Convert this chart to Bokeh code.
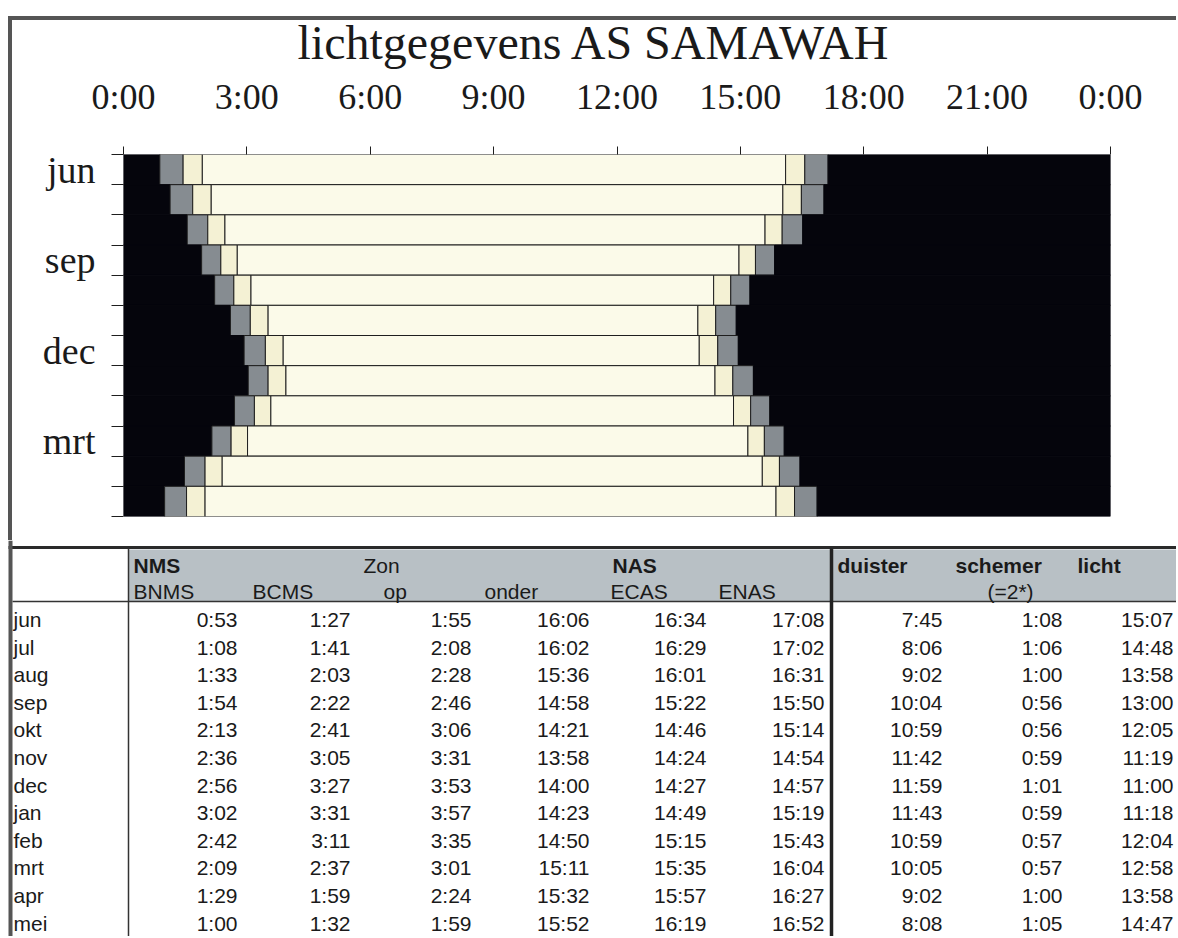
from bokeh.plotting import figure
from bokeh.models import Range1d, FixedTicker, ColumnDataSource, InlineStyleSheet
from bokeh.embed import file_html
from bokeh.resources import INLINE
from bokeh.core.properties import value

# ---------------- data ----------------
title_text = "lichtgegevens AS SAMAWAH"
months = ["jun", "jul", "aug", "sep", "okt", "nov", "dec", "jan", "feb", "mrt", "apr", "mei"]
bnms   = ["0:53", "1:08", "1:33", "1:54", "2:13", "2:36", "2:56", "3:02", "2:42", "2:09", "1:29", "1:00"]
bcms   = ["1:27", "1:41", "2:03", "2:22", "2:41", "3:05", "3:27", "3:31", "3:11", "2:37", "1:59", "1:32"]
zon_op = ["1:55", "2:08", "2:28", "2:46", "3:06", "3:31", "3:53", "3:57", "3:35", "3:01", "2:24", "1:59"]
zon_onder = ["16:06", "16:02", "15:36", "14:58", "14:21", "13:58", "14:00", "14:23", "14:50", "15:11", "15:32", "15:52"]
ecas   = ["16:34", "16:29", "16:01", "15:22", "14:46", "14:24", "14:27", "14:49", "15:15", "15:35", "15:57", "16:19"]
enas   = ["17:08", "17:02", "16:31", "15:50", "15:14", "14:54", "14:57", "15:19", "15:43", "16:04", "16:27", "16:52"]
duister = ["7:45", "8:06", "9:02", "10:04", "10:59", "11:42", "11:59", "11:43", "10:59", "10:05", "9:02", "8:08"]
schemer = ["1:08", "1:06", "1:00", "0:56", "0:56", "0:59", "1:01", "0:59", "0:57", "0:57", "1:00", "1:05"]
licht   = ["15:07", "14:48", "13:58", "13:00", "12:05", "11:19", "11:00", "11:18", "12:04", "12:58", "13:58", "14:47"]

hour_ticks = [0, 3, 6, 9, 12, 15, 18, 21, 24]
hour_labels = ["0:00", "3:00", "6:00", "9:00", "12:00", "15:00", "18:00", "21:00", "0:00"]
month_label_rows = [0, 3, 6, 9]

header_top = [("NMS", "bold"), ("Zon", "normal"), ("NAS", "bold"),
              ("duister", "bold"), ("schemer", "bold"), ("licht", "bold")]
header_bottom = ["BNMS", "BCMS", "op", "onder", "ECAS", "ENAS", "(=2*)"]

# ---------------- styles ----------------
C_NIGHT = "#05050c"
C_NAUT = "#868c91"
C_CIV = "#f4f1d4"
C_DAY = "#fbfae9"
C_LINE = "#1e1e1e"
C_FRAME = "#555555"
C_HEAD = "#b8c0c5"
SERIF = "Liberation Serif"
SANS = "Liberation Sans"

W = 1176
H1 = 540
H2 = 396


def hrs(s):
    h, m = s.split(":")
    return int(h) + int(m) / 60.0


# ---------------- chart ----------------
frame_css = InlineStyleSheet(css="""
:host::before { content: ""; position: absolute; left: 8px; top: 16px; width: 4px;
                height: 524px; background: #555555; z-index: 100; pointer-events: none; }
:host::after  { content: ""; position: absolute; left: 8px; top: 16px; width: 1168px;
                height: 4px; background: #555555; z-index: 100; pointer-events: none; }
""")

p1 = figure(width=W, height=H1, x_range=Range1d(0, 24), y_range=Range1d(12, 0),
            x_axis_location="above", output_backend="svg", toolbar_location=None,
            min_border_left=123, min_border_right=W - 1110, min_border_top=154,
            min_border_bottom=H1 - 516, title=title_text, stylesheets=[frame_css])
p1.outline_line_color = None
p1.grid.visible = False
p1.background_fill_color = "white"
p1.border_fill_color = "white"

p1.title.text_font = SERIF
p1.title.text_font_size = "48px"
p1.title.text_font_style = "normal"
p1.title.text_color = "#1a1a1a"
p1.title.align = "left"
p1.title.offset = 174

xa = p1.xaxis[0]
xa.ticker = FixedTicker(ticks=hour_ticks)
xa.major_label_overrides = {t: l for t, l in zip(hour_ticks, hour_labels)}
xa.axis_line_color = None
xa.major_tick_in = 0
xa.major_tick_out = 8
xa.minor_tick_out = 0
xa.minor_tick_in = 0
xa.major_tick_line_color = C_LINE
xa.major_label_text_font = SERIF
xa.major_label_text_font_size = "36px"
xa.major_label_text_color = "#1a1a1a"
xa.major_label_standoff = 30

ya = p1.yaxis[0]
centers = [r + 0.5 for r in month_label_rows]
ya.ticker = FixedTicker(ticks=centers, minor_ticks=list(range(len(months) + 1)))
ya.major_label_overrides = {c: months[r] for c, r in zip(centers, month_label_rows)}
ya.axis_line_color = None
ya.major_tick_in = 0
ya.major_tick_out = 0
ya.minor_tick_in = 0
ya.minor_tick_out = 12
ya.minor_tick_line_color = C_LINE
ya.major_label_text_font = SERIF
ya.major_label_text_font_size = "38px"
ya.major_label_text_color = "#1a1a1a"
ya.major_label_standoff = 16

seg = dict(y=[], left=[], right=[], color=[], line=[])
for i in range(len(months)):
    yc = i + 0.5
    bounds = [0, hrs(bnms[i]), hrs(bcms[i]), hrs(zon_op[i]), hrs(zon_onder[i]),
              hrs(ecas[i]), hrs(enas[i]), 24]
    colors = [C_NIGHT, C_NAUT, C_CIV, C_DAY, C_CIV, C_NAUT, C_NIGHT]
    for k in range(7):
        seg["y"].append(yc)
        seg["left"].append(bounds[k])
        seg["right"].append(bounds[k + 1])
        seg["color"].append(colors[k])
        seg["line"].append(C_NIGHT if colors[k] == C_NIGHT else C_LINE)
src = ColumnDataSource(seg)
p1.hbar(y="y", left="left", right="right", height=1, fill_color="color",
        line_color="line", line_width=1, source=src)

# ---------------- table ----------------
p2 = figure(width=W, height=H2, x_range=Range1d(0, W), y_range=Range1d(H2, 0),
            output_backend="svg", toolbar_location=None,
            x_axis_location=None, y_axis_location=None,
            min_border=0)
p2.outline_line_color = None
p2.grid.visible = False
p2.border_fill_color = "white"

# header background
p2.quad(left=[128], right=[W], top=[9], bottom=[61], fill_color=C_HEAD, line_color=None)
# lines
p2.segment(x0=[8], y0=[7], x1=[W], y1=[7], line_color="#2a2a2a", line_width=3)
p2.segment(x0=[12], y0=[61], x1=[W], y1=[61], line_color="#333333", line_width=1.5)
p2.segment(x0=[128], y0=[8], x1=[128], y1=[H2], line_color="#333333", line_width=1.5)
p2.segment(x0=[831], y0=[8], x1=[831], y1=[H2], line_color="#222222", line_width=3.5)
p2.quad(left=[8], right=[12], top=[0], bottom=[H2], fill_color=C_FRAME, line_color=None)

# header texts
top_x = [133, 363, 612, 837, 955, 1077]
for (t, style), x in zip(header_top, top_x):
    p2.text(x=[x], y=[25], text=[t], text_font=value(SANS), text_font_size="21px",
            text_font_style=style, text_color="#1a1a1a", text_baseline="middle", text_align="left")
bot_x = [133, 252, 383, 484, 610, 718, 987]
for t, x in zip(header_bottom, bot_x):
    p2.text(x=[x], y=[51], text=[t], text_font=value(SANS), text_font_size="21px",
            text_color="#1a1a1a", text_baseline="middle", text_align="left")

# rows
row_y = [79 + 27.6 * i for i in range(len(months))]
p2.text(x=[13] * len(months), y=row_y, text=months, text_font=value(SANS),
        text_font_size="21px", text_color="#1a1a1a", text_baseline="middle", text_align="left")
col_right = [237, 350, 471, 589, 706, 824, 942, 1062, 1173]
cols = [bnms, bcms, zon_op, zon_onder, ecas, enas, duister, schemer, licht]
for xr, col in zip(col_right, cols):
    p2.text(x=[xr] * len(col), y=row_y, text=col, text_font=value(SANS),
            text_font_size="21px", text_color="#1a1a1a", text_baseline="middle", text_align="right")

open("out.html", "w").write(file_html([p1, p2], INLINE))
